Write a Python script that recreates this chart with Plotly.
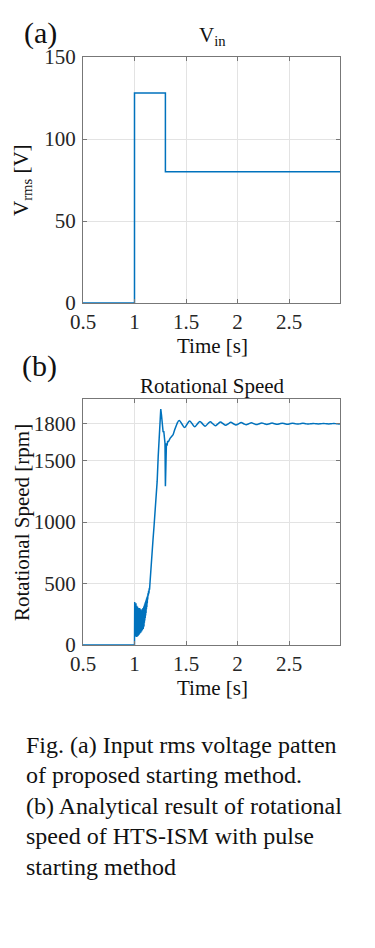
import plotly.graph_objects as go

# ---------------- data ----------------
volt_t = [0.5, 1.0, 1.3, 2.995]
volt_v = [0, 128, 80, 80]

# start-up transient of the rotational speed (0.5 s .. 1.42 s)
speed_t_transient = [
    0.5, 1.0,
    1.002, 1.004, 1.006, 1.008, 1.010, 1.012, 1.014, 1.016, 1.018, 1.020,
    1.022, 1.024, 1.026, 1.028, 1.030, 1.032, 1.034, 1.036, 1.038, 1.040,
    1.042, 1.044, 1.046, 1.048, 1.050, 1.052, 1.054, 1.056, 1.058, 1.060,
    1.062, 1.064, 1.066, 1.068, 1.070, 1.072, 1.074, 1.076, 1.078, 1.080,
    1.082, 1.084, 1.086, 1.088, 1.090, 1.092, 1.094, 1.096, 1.098, 1.100,
    1.102, 1.104, 1.106, 1.108, 1.110, 1.112, 1.114, 1.116, 1.118, 1.120,
    1.122, 1.124, 1.126, 1.128, 1.131, 1.134, 1.137, 1.140, 1.143, 1.146,
    1.150, 1.155, 1.160, 1.165, 1.170, 1.180, 1.190, 1.200, 1.210, 1.220,
    1.230, 1.240, 1.248, 1.255, 1.262, 1.270, 1.278, 1.284, 1.290, 1.296,
    1.300, 1.304, 1.310, 1.316, 1.322, 1.328, 1.335, 1.345, 1.360, 1.375,
    1.390, 1.405, 1.420]
speed_rpm_transient = [
    0, 0,
    350, 110, 330, 80, 310, 70, 340, 90, 300, 65,
    320, 80, 290, 70, 310, 95, 280, 75, 300, 100,
    290, 85, 270, 110, 300, 95, 260, 120, 290, 100,
    270, 130, 280, 110, 260, 140, 290, 120, 270, 150,
    300, 130, 280, 160, 310, 150, 320, 180, 330, 200,
    340, 220, 350, 240, 360, 260, 370, 290, 380, 310,
    390, 340, 400, 370, 420, 400, 440, 420, 460, 450,
    500, 550, 610, 680, 740, 860, 970, 1080, 1180, 1330,
    1530, 1740, 1880, 1918, 1870, 1780, 1730, 1740, 1700, 1640,
    1290, 1550, 1640, 1620, 1660, 1650, 1670, 1680, 1695, 1710,
    1750, 1790, 1815]

# damped oscillation around the synchronous speed (1.42 s .. end)
speed_t_settle = [
    1.420,
    1.435, 1.460, 1.485, 1.510, 1.535, 1.560, 1.585, 1.610,
    1.635, 1.660, 1.685, 1.710, 1.735, 1.760, 1.785, 1.810,
    1.835, 1.860, 1.885, 1.910, 1.935, 1.960, 1.985, 2.010,
    2.035, 2.060, 2.085, 2.110, 2.135, 2.160, 2.185, 2.210,
    2.235, 2.260, 2.285, 2.310, 2.335, 2.360, 2.385, 2.410,
    2.435, 2.460, 2.485, 2.510, 2.535, 2.560, 2.585, 2.610,
    2.635, 2.660, 2.685, 2.710, 2.735, 2.760, 2.785, 2.810,
    2.835, 2.860, 2.885, 2.910, 2.935, 2.960, 2.985, 2.995]
speed_rpm_settle = [
    1815,
    1825, 1797, 1768, 1795, 1822, 1798, 1774, 1797,
    1818, 1798, 1779, 1797, 1815, 1799, 1783, 1798,
    1812, 1799, 1786, 1798, 1810, 1799, 1789, 1798,
    1808, 1799, 1791, 1799, 1806, 1799, 1792, 1799,
    1805, 1799, 1793, 1799, 1804, 1799, 1794, 1799,
    1803, 1799, 1795, 1799, 1802, 1799, 1796, 1799,
    1802, 1799, 1796, 1799, 1801, 1799, 1797, 1799,
    1801, 1799, 1797, 1799, 1801, 1799, 1797, 1799]

x_ticks = [0.5, 1, 1.5, 2, 2.5]
x_tick_labels = ["0.5", "1", "1.5", "2", "2.5"]
v_ticks = [0, 50, 100, 150]
s_ticks = [0, 500, 1000, 1500, 1800]

caption_lines = ["Fig. (a) Input rms voltage patten",
                 "of proposed starting method.",
                 "(b) Analytical result of rotational",
                 "speed of HTS-ISM with pulse",
                 "starting method"]

# ---------------- layout helpers ----------------
W, H = 375, 948
FONT = "Liberation Serif, Times New Roman, serif"
BLUE = "#0072BD"


def px_x(x):
    return x / W


def px_y(y):
    return (H - y) / H


fig = go.Figure()
fig.add_trace(go.Scatter(x=volt_t, y=volt_v, mode="lines", line_shape="hv",
                         line=dict(color=BLUE, width=1.5), xaxis="x", yaxis="y",
                         showlegend=False, hoverinfo="skip"))
fig.add_trace(go.Scatter(x=speed_t_transient, y=speed_rpm_transient, mode="lines",
                         line=dict(color=BLUE, width=1.5), xaxis="x2", yaxis="y2",
                         showlegend=False, hoverinfo="skip"))
fig.add_trace(go.Scatter(x=speed_t_settle, y=speed_rpm_settle, mode="lines",
                         line=dict(color=BLUE, width=1.5, shape="spline", smoothing=1.0),
                         xaxis="x2", yaxis="y2", showlegend=False, hoverinfo="skip"))

axis_common = dict(showline=True, linecolor="#777777", linewidth=1, mirror="ticks",
                   ticks="inside", ticklen=4, tickcolor="#777777",
                   showgrid=True, gridcolor="#e3e3e3", gridwidth=1, zeroline=False,
                   automargin=False,
                   tickfont=dict(family=FONT, size=21, color="#262626"))

xdom = [px_x(83), px_x(340)]
fig.update_layout(
    width=W, height=H, autosize=False,
    margin=dict(l=0, r=0, t=0, b=0, pad=0),
    paper_bgcolor="white", plot_bgcolor="white",
    xaxis=dict(domain=xdom, range=[0.5, 2.995], tickvals=x_ticks, ticktext=x_tick_labels,
               anchor="y", **axis_common),
    yaxis=dict(domain=[px_y(303), px_y(57)], range=[0, 150], tickvals=v_ticks,
               anchor="x", ticklabelstandoff=2, **axis_common),
    xaxis2=dict(domain=xdom, range=[0.5, 2.995], tickvals=x_ticks, ticktext=x_tick_labels,
                anchor="y2", **axis_common),
    yaxis2=dict(domain=[px_y(645), px_y(399)], range=[0, 2000], tickvals=s_ticks,
                anchor="x2", ticklabelstandoff=2, **axis_common),
)

ann = []


def add_text(text, x, y, size, angle=0, xanchor="center", yanchor="middle"):
    ann.append(dict(text=text, x=px_x(x), y=px_y(y), xref="paper", yref="paper",
                    showarrow=False, textangle=angle, xanchor=xanchor, yanchor=yanchor,
                    font=dict(family=FONT, size=size, color="#111111")))


add_text("(a)", 40, 33, 30)
add_text("(b)", 39, 366, 30)
add_text("V<sub>in</sub>", 212, 36, 21)
add_text("Rotational Speed", 212, 386, 21)
add_text("V<sub>rms</sub> [V]", 22, 180, 21, angle=-90)
add_text("Rotational Speed [rpm]", 22, 523, 21, angle=-90)
add_text("Time [s]", 212, 346, 21)
add_text("Time [s]", 212, 688, 21)

for i, line in enumerate(caption_lines):
    add_text(line, 24, 745 + i * 30.4, 24, xanchor="left")

fig.update_layout(annotations=ann)
fig.write_html(
    "out.html",
    config={"displayModeBar": False, "responsive": False},
    post_script=(
        "var d=document.getElementById('{plot_id}');"
        "d.style.position='fixed';d.style.left='0px';d.style.top='0px';"
        "document.documentElement.style.margin='0';"
        "document.documentElement.style.overflow='hidden';"
        "document.body.style.margin='0';document.body.style.padding='0';"
        "document.body.style.overflow='hidden';"
    ),
)
